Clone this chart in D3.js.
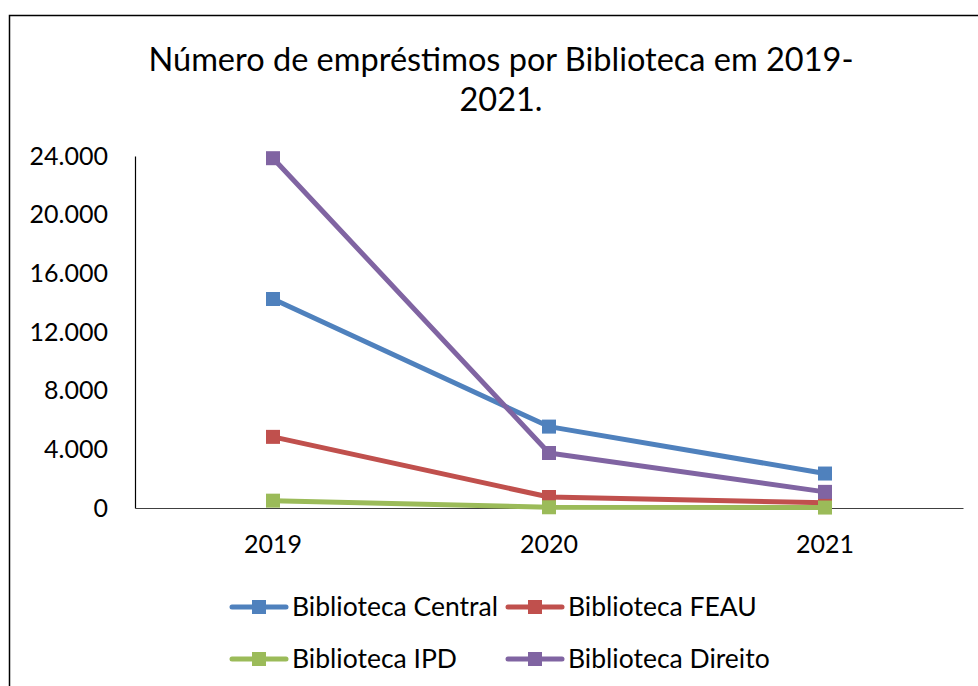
<!DOCTYPE html>
<html>
<head>
<meta charset="utf-8">
<script src="https://cdn.jsdelivr.net/npm/d3@7"></script>
<style>
  body { margin: 0; background: #fff; }
  text { font-family: Lato, "Open Sans", sans-serif; fill: #000; }
</style>
</head>
<body>
<div id="wrapper"></div>
<script>
// data
const years = ["2019", "2020", "2021"]
const seriesNames = ["Biblioteca Central", "Biblioteca FEAU", "Biblioteca IPD", "Biblioteca Direito"]
const central = [14250, 5550, 2350]
const feau = [4850, 750, 350]
const ipd = [500, 50, 30]
const direito = [23850, 3750, 1100]
const yTicks = [0, 4000, 8000, 12000, 16000, 20000, 24000]
const colors = ["#4f81bd", "#c0504d", "#9bbb59", "#8064a2"]

const series = [central, feau, ipd, direito].map((values, i) => ({
  name: seriesNames[i],
  color: colors[i],
  values: values.map((v, j) => ({ year: years[j], value: v }))
}))

const drawChart = () => {
  let dimensions = {
    width: 978,
    height: 686,
    margin: { top: 156, right: 15, bottom: 178, left: 135 },
  }
  dimensions.boundedWidth = 963 - dimensions.margin.left
  dimensions.boundedHeight = 508 - dimensions.margin.top

  const svg = d3.select("#wrapper")
    .append("svg")
      .attr("width", dimensions.width)
      .attr("height", dimensions.height)

  // outer frame
  svg.append("rect")
    .attr("x", 9.5).attr("y", 15.5)
    .attr("width", 1000).attr("height", 1000)
    .attr("fill", "none")
    .attr("stroke", "#000")
    .attr("stroke-width", 1.5)

  // title
  const title = svg.append("text")
    .attr("text-anchor", "middle")
    .style("font-size", "32.5px")
  title.append("tspan").attr("x", 501).attr("y", 71).text("Número de empréstimos por Biblioteca em 2019-")
  title.append("tspan").attr("x", 501).attr("y", 111).text("2021.")

  const bounds = svg.append("g")
    .attr("transform", `translate(${dimensions.margin.left}, ${dimensions.margin.top})`)

  const xScale = d3.scaleBand()
    .domain(years)
    .range([0, dimensions.boundedWidth])

  const yScale = d3.scaleLinear()
    .domain([0, 24000])
    .range([dimensions.boundedHeight, 0])

  const fmt = d => d3.format(",")(d).replace(/,/g, ".")

  // y axis
  const yAxis = bounds.append("g")
    .call(d3.axisLeft(yScale).tickValues(yTicks).tickSize(0).tickPadding(27).tickFormat(fmt))
  yAxis.select(".domain").attr("stroke", "#000").attr("stroke-width", 1.2)
  yAxis.selectAll("text").style("font-size", "25px").style("font-family", "Lato, sans-serif")

  // x axis
  const xAxis = bounds.append("g")
    .attr("transform", `translate(0, ${dimensions.boundedHeight})`)
    .call(d3.axisBottom(xScale).tickSize(0).tickPadding(27))
  xAxis.select(".domain").attr("stroke", "#404040").attr("stroke-width", 1.2)
  xAxis.selectAll("text").style("font-size", "25px").style("font-family", "Lato, sans-serif")

  const xPos = d => xScale(d.year) + xScale.bandwidth() / 2

  const lineGenerator = d3.line()
    .x(xPos)
    .y(d => yScale(d.value))

  const groups = bounds.selectAll(".series")
    .data(series)
    .join("g")
      .attr("class", "series")

  groups.append("path")
    .attr("d", d => lineGenerator(d.values))
    .attr("fill", "none")
    .attr("stroke", d => d.color)
    .attr("stroke-width", 5)
    .attr("stroke-linejoin", "round")

  const markerSize = 14
  groups.selectAll("rect")
    .data(d => d.values.map(v => ({ ...v, color: d.color })))
    .join("rect")
      .attr("x", d => xPos(d) - markerSize / 2)
      .attr("y", d => yScale(d.value) - markerSize / 2)
      .attr("width", markerSize)
      .attr("height", markerSize)
      .attr("fill", d => d.color)

  // legend
  const legendPos = [[232, 607], [508, 607], [232, 659], [508, 659]]
  const legend = svg.selectAll(".legend")
    .data(series)
    .join("g")
      .attr("class", "legend")
      .attr("transform", (d, i) => `translate(${legendPos[i][0]}, ${legendPos[i][1]})`)

  legend.append("line")
    .attr("x1", 0).attr("x2", 54)
    .attr("stroke", d => d.color)
    .attr("stroke-width", 5)
    .attr("stroke-linecap", "round")
  legend.append("rect")
    .attr("x", 27 - markerSize / 2).attr("y", -markerSize / 2)
    .attr("width", markerSize).attr("height", markerSize)
    .attr("fill", d => d.color)
  legend.append("text")
    .attr("x", 60)
    .attr("dy", "0.35em")
    .style("font-size", "26.5px")
    .text(d => d.name)
}

drawChart()
</script>
</body>
</html>
